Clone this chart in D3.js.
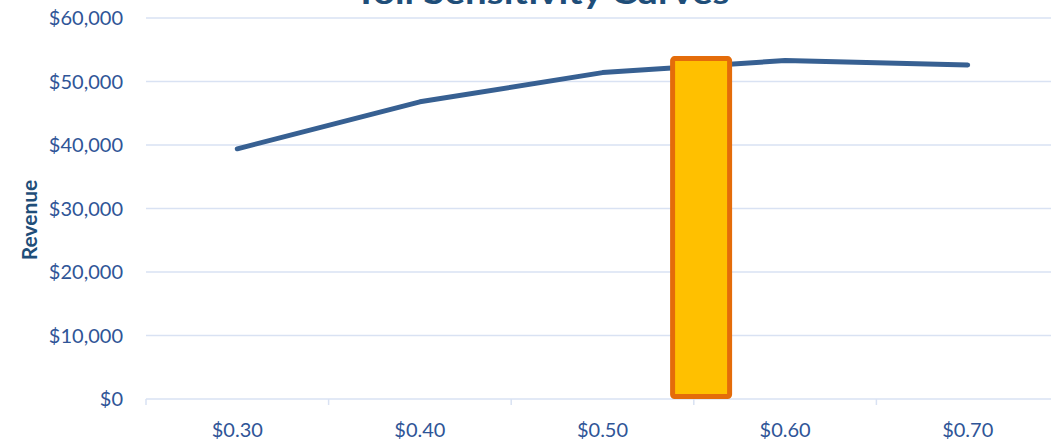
<!DOCTYPE html>
<html>
<head>
<meta charset="utf-8">
<script src="https://d3js.org/d3.v7.min.js"></script>
<style>
  body { margin: 0; background: #fff; }
  svg { display: block; font-family: Lato, "Open Sans", sans-serif; }
  .tick-label { fill: #2F5597; font-size: 20px; }
</style>
</head>
<body>
<div id="chart"></div>
<script>
// toll levels and modelled revenue at each
const tolls = [0.30, 0.40, 0.50, 0.60, 0.70]
const revenue = [39400, 46800, 51400, 53300, 52600]
const yTicks = [0, 10000, 20000, 30000, 40000, 50000, 60000]

// highlighted toll bar
const optimalToll = 0.554
const optimalBarValue = 54000

const W = 1051, H = 442
const m = {t: 18, r: -8, b: 43, l: 146}

const svg = d3.select('#chart').append('svg')
  .attr('width', W)
  .attr('height', H)

const x = d3.scaleLinear()
  .domain([0.25, 0.75])
  .range([m.l, W - m.r])

const y = d3.scaleLinear()
  .domain([0, 60000])
  .range([H - m.b, m.t])

const money = d3.format('$,')

// gridlines
svg.append('g')
  .selectAll('line')
  .data(yTicks)
  .join('line')
  .attr('x1', m.l)
  .attr('x2', W)
  .attr('y1', d => y(d))
  .attr('y2', d => y(d))
  .style('stroke', '#D9E2F3')
  .style('stroke-width', 1.5)

// category boundary ticks below the axis
const bounds = d3.range(0.25, 0.75, 0.1)
svg.append('g')
  .selectAll('line')
  .data(bounds)
  .join('line')
  .attr('x1', d => x(d))
  .attr('x2', d => x(d))
  .attr('y1', y(0))
  .attr('y2', y(0) + 6)
  .style('stroke', '#D9E2F3')
  .style('stroke-width', 1.5)

// y labels
svg.append('g')
  .selectAll('text')
  .data(yTicks)
  .join('text')
  .attr('class', 'tick-label')
  .attr('x', 123)
  .attr('y', d => y(d) + 7)
  .attr('text-anchor', 'end')
  .text(d => money(d))

// x labels
svg.append('g')
  .selectAll('text')
  .data(tolls)
  .join('text')
  .attr('class', 'tick-label')
  .attr('x', d => x(d))
  .attr('y', 437)
  .attr('text-anchor', 'middle')
  .text(d => '$' + d.toFixed(2))

// revenue curve
const line = d3.line()
  .x((d, i) => x(tolls[i]))
  .y(d => y(d))

svg.append('path')
  .datum(revenue)
  .attr('d', line)
  .style('fill', 'none')
  .style('stroke', '#376092')
  .style('stroke-width', 5)
  .style('stroke-linecap', 'round')
  .style('stroke-linejoin', 'round')

// highlighted toll bar, stroke kept inside the bar extent
const barW = 62, sw = 5
svg.append('rect')
  .attr('x', x(optimalToll) - barW / 2 + sw / 2)
  .attr('y', y(optimalBarValue) + sw / 2)
  .attr('width', barW - sw)
  .attr('height', y(0) - y(optimalBarValue) - sw)
  .attr('rx', 2)
  .style('fill', '#FFC000')
  .style('stroke', '#E46C0A')
  .style('stroke-width', sw)

// axis title
svg.append('text')
  .attr('transform', 'translate(37,220) rotate(-90)')
  .attr('text-anchor', 'middle')
  .style('font-size', '21px')
  .style('font-weight', 'bold')
  .style('fill', '#1F4E79')
  .text('Revenue')

// chart title, sits partly above the top edge
svg.append('text')
  .attr('x', 542)
  .attr('y', 4)
  .attr('text-anchor', 'middle')
  .attr('textLength', 375)
  .attr('lengthAdjust', 'spacingAndGlyphs')
  .style('font-size', '33px')
  .style('font-weight', 'bold')
  .style('fill', '#1F4E79')
  .text('Toll Sensitivity Curves')
</script>
</body>
</html>
